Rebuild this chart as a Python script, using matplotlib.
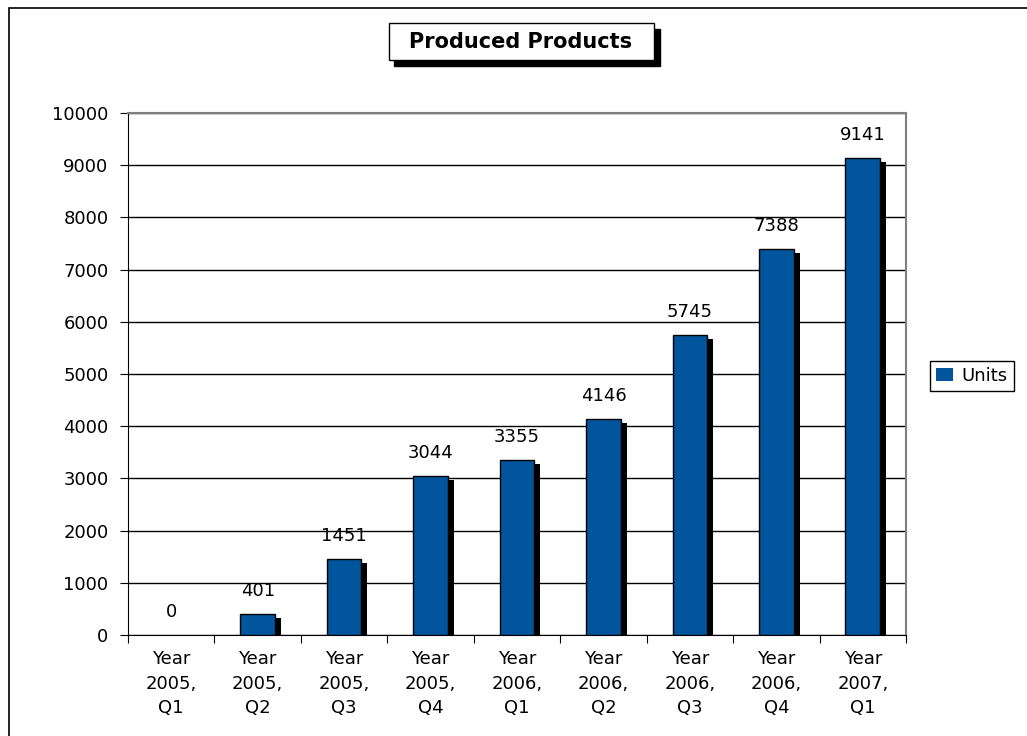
import numpy as np
import matplotlib.pyplot as plt
from matplotlib.patches import Rectangle
from matplotlib.transforms import ScaledTranslation

# 四半期ごとの生産数
quarters = ["Year\n2005,\nQ1", "Year\n2005,\nQ2", "Year\n2005,\nQ3", "Year\n2005,\nQ4",
            "Year\n2006,\nQ1", "Year\n2006,\nQ2", "Year\n2006,\nQ3", "Year\n2006,\nQ4",
            "Year\n2007,\nQ1"]
units = [0, 401, 1451, 3044, 3355, 4146, 5745, 7388, 9141]
yticks = list(range(0, 10001, 1000))

plt.rcParams["font.family"] = ["DejaVu Sans"]
W, H = 1027, 736
fs = 13
fig = plt.figure(figsize=(W / 100, H / 100), dpi=100)

# 外枠
fig.patches.append(Rectangle((9 / W, -0.1), 1.2, 1.1 - 8 / H, transform=fig.transFigure,
                             fill=False, edgecolor="black", lw=1.2))

ax = fig.add_axes([128 / W, 1 - 635 / H, (906 - 128) / W, (635 - 113) / H])
x = np.arange(len(units))

# 影
shadow = ax.transData + ScaledTranslation(6 / 100, -4 / 100, fig.dpi_scale_trans)
ax.bar(x, units, width=0.4, color="black", transform=shadow, zorder=2)
ax.bar(x, units, width=0.4, color="#00559D", edgecolor="black",
       lw=[1 if v else 0 for v in units], zorder=3, label="Units")

for xi, v in zip(x, units):
    ax.annotate(str(v), (xi, v), xytext=(0, 10), textcoords="offset points",
                ha="center", va="bottom", fontsize=fs)

ax.set_xlim(-0.5, len(units) - 0.5)
ax.set_ylim(0, 10000)
ax.set_yticks(yticks)
ax.set_yticklabels([str(t) for t in yticks], fontsize=fs)
ax.yaxis.grid(True, color="black", lw=1)
ax.set_axisbelow(True)

# 区切りの目盛りとラベル
ax.set_xticks(np.arange(len(units) + 1) - 0.5)
ax.set_xticklabels([])
ax.set_xticks(x, minor=True)
ax.set_xticklabels(quarters, minor=True, fontsize=fs, linespacing=1.45)
ax.tick_params(axis="x", which="minor", length=0, pad=11)
ax.tick_params(axis="x", which="major", length=6, direction="out", color="black")
ax.tick_params(axis="y", length=6, direction="out", pad=8)

for s in ["left", "bottom"]:
    ax.spines[s].set_color("black")
for s in ["top", "right"]:
    ax.spines[s].set_color("#808080")
    ax.spines[s].set_linewidth(1.5)

# タイトル
fig.patches.append(Rectangle((394 / W, 1 - 66 / H), 266 / W, 37 / H,
                             transform=fig.transFigure, color="black"))
fig.patches.append(Rectangle((389 / W, 1 - 60 / H), 265 / W, 37 / H,
                             transform=fig.transFigure, facecolor="white",
                             edgecolor="black", lw=1))
fig.text(521 / W, 1 - 41.5 / H, "Produced Products", ha="center", va="center",
         fontsize=15, fontweight="bold")

leg = ax.legend(loc="center left", bbox_to_anchor=(930 / W, 1 - 376 / H),
                bbox_transform=fig.transFigure, fontsize=fs, fancybox=False,
                edgecolor="black", framealpha=1, handlelength=0.9, handleheight=0.7,
                handletextpad=0.5, borderpad=0.35, borderaxespad=0)
leg.get_frame().set_linewidth(1)

fig.savefig("out.png", dpi=100)
